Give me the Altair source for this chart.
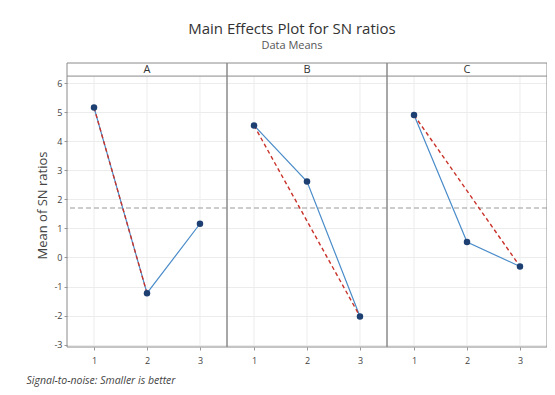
import altair as alt
import pandas as pd

factors = ["A", "B", "C"]
levels = [1, 2, 3]
sn_A = [5.16, -1.23, 1.16]
sn_B = [4.54, 2.61, -2.03]
sn_C = [4.90, 0.53, -0.31]
y_ticks = [-3, -2, -1, 0, 1, 2, 3, 4, 5, 6]

values_by_factor = {"A": sn_A, "B": sn_B, "C": sn_C}
all_vals = sn_A + sn_B + sn_C
grand_mean = sum(all_vals) / len(all_vals)

FONT = "Open Sans"
W = 480
H = 284
PANEL = 3.02           # x-units per panel
X0 = 0.49              # left edge of first panel in x-units
Y_LO = -3.08           # bottom of plot region
Y_HI = 6.24            # top of plot region (bottom of strip)
Y_TOP = 6.69           # top of strip
GRID = "#ececec"
BORDER = "#8a8a8a"

rows = []
for p, f in enumerate(factors):
    for lv, v in zip(levels, values_by_factor[f]):
        rows.append({"Factor": f, "Level": lv, "SN": v, "xpos": p * PANEL + lv})
df = pd.DataFrame(rows)

red_rows = []
for f in factors:
    sub = df[df.Factor == f]
    red_rows.append(sub.loc[sub.SN.idxmax()])
    red_rows.append(sub.loc[sub.SN.idxmin()])
red = pd.DataFrame(red_rows)

frames = pd.DataFrame({
    "Factor": factors,
    "x0": [X0 + p * PANEL for p in range(3)],
    "x1": [X0 + (p + 1) * PANEL for p in range(3)],
    "y0": [Y_LO] * 3, "y1": [Y_TOP] * 3, "ys": [Y_HI] * 3,
    "ymid": [(Y_HI + Y_TOP) / 2] * 3,
    "xmid": [X0 + (p + 0.5) * PANEL for p in range(3)],
})
vgrid = pd.DataFrame({"xpos": df.xpos, "y0": Y_LO, "y1": Y_HI})
mean_df = pd.DataFrame({"SN": [grand_mean]})

xs = alt.Scale(domain=[X0, X0 + 3 * PANEL], nice=False, zero=False)
ys = alt.Scale(domain=[Y_LO, Y_TOP], nice=False, zero=False)

x_axis = alt.Axis(values=list(df.xpos),
                  labelExpr="round(((datum.value - 0.49) % 3.02) + 0.49) + ''",
                  grid=False, domain=False, tickColor="#9a9a9a", tickSize=3,
                  labelFontSize=9, labelColor="#444", labelPadding=6,
                  labelFont=FONT, labelOverlap=False,
                  title="Signal-to-noise: Smaller is better",
                  titleFont=FONT, titleFontStyle="italic", titleFontWeight="normal",
                  titleFontSize=10.5, titleColor="#444",
                  titleAnchor="start", titleAlign="left", titleBaseline="middle",
                  titleX=-41, titleY=33)
y_axis = alt.Axis(values=y_ticks, labelExpr="datum.value + ''", grid=True, gridColor=GRID,
                  domain=False, tickColor="#9a9a9a", tickSize=3,
                  labelFontSize=9, labelColor="#444", labelPadding=2,
                  labelFont=FONT, labelOverlap=False, labelFlush=False,
                  title="Mean of SN ratios", titleFont=FONT, titleFontSize=13,
                  titleFontWeight="normal", titleColor="#444", titlePadding=4)


def X(field):
    return alt.X(field, scale=xs, axis=x_axis)


def Y(field):
    return alt.Y(field, scale=ys, axis=y_axis)


base = alt.Chart(df)
line = base.mark_line(color="#4a8cc9", strokeWidth=1.2).encode(
    x=X("xpos:Q"), y=Y("SN:Q"), detail="Factor:N")
vg = alt.Chart(vgrid).mark_rule(color=GRID, strokeWidth=1).encode(
    x=X("xpos:Q"), y=Y("y0:Q"), y2="y1:Q")
strip_bg = alt.Chart(frames).mark_rect(fill="white").encode(
    x=X("x0:Q"), x2="x1:Q", y=Y("ys:Q"), y2="y1:Q")
mean_rule = alt.Chart(mean_df).mark_rule(color="#9a9a9a", strokeDash=[5, 3], strokeWidth=1.1).encode(
    y=Y("SN:Q"))
red_line = alt.Chart(red).mark_line(color="#c8322a", strokeDash=[4, 3], strokeWidth=1.4).encode(
    x=X("xpos:Q"), y=Y("SN:Q"), detail="Factor:N")
pts = base.mark_circle(color="#1d3f72", size=42, opacity=1).encode(x=X("xpos:Q"), y=Y("SN:Q"))
frame = alt.Chart(frames).mark_rect(fillOpacity=0, stroke=BORDER, strokeWidth=1).encode(
    x=X("x0:Q"), x2="x1:Q", y=Y("y0:Q"), y2="y1:Q")
strip_line = alt.Chart(frames).mark_rule(color=BORDER, strokeWidth=1).encode(
    x=X("x0:Q"), x2="x1:Q", y=Y("ys:Q"))
strip_text = alt.Chart(frames).mark_text(font=FONT, fontSize=11, color="#333",
                                         baseline="middle", align="center", dy=0.5).encode(
    x=X("xmid:Q"), y=Y("ymid:Q"), text="Factor:N")

chart = alt.layer(vg, strip_bg, mean_rule, line, red_line, pts, frame, strip_line,
                  strip_text).properties(
    width=W, height=H,
    title=alt.TitleParams(
        "Main Effects Plot for SN ratios",
        subtitle="Data Means",
        font=FONT, fontSize=15, fontWeight="normal", color="#333",
        subtitleFont=FONT, subtitleFontSize=11, subtitleColor="#555",
        subtitlePadding=3, offset=12, anchor="middle", dx=-15,
    ),
    autosize=alt.AutoSizeParams(type="none"),
    padding={"left": 59, "top": 55, "right": 0, "bottom": 40},
    background="white",
).configure_view(stroke=None).configure_axisY(labelOverlap=False)

chart.save("out.html", embed_options={"renderer": "svg", "actions": False})
